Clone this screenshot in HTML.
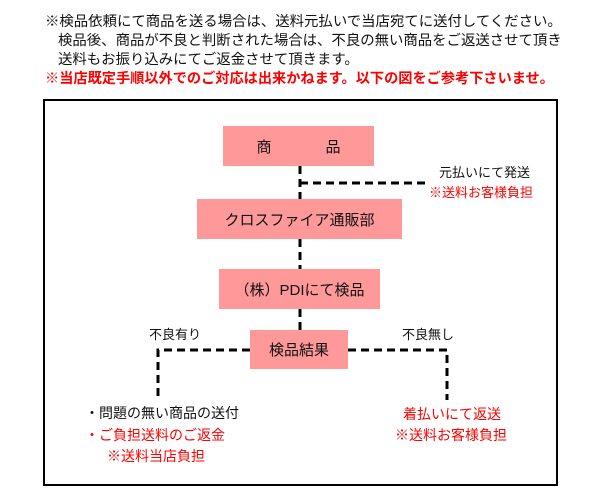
<!DOCTYPE html>
<html><head><meta charset="utf-8"><style>
body{margin:0;width:600px;height:500px;background:#fff;position:relative;font-family:"Liberation Sans","Noto Sans CJK JP",sans-serif;overflow:hidden}
.t{position:absolute;white-space:nowrap;font-size:14.4px;line-height:16px;color:#111}
.b{position:absolute;background:#ff9999;display:flex;align-items:center;justify-content:center;font-size:15px;color:#111}
.s{position:absolute;white-space:nowrap;font-size:13px;line-height:16px;color:#111}
.r{color:#f00}
</style></head><body>
<div class="t" style="left:45px;top:14px">※検品依頼にて商品を送る場合は、送料元払いで当店宛てに送付してください。</div>
<div class="t" style="left:58px;top:33px">検品後、商品が不良と判断された場合は、不良の無い商品をご返送させて頂き</div>
<div class="t" style="left:58px;top:52px">送料もお振り込みにてご返金させて頂きます。</div>
<div class="t r" style="left:45px;top:71px;font-weight:bold;font-size:14.2px">※当店既定手順以外でのご対応は出来かねます。以下の図をご参考下さいませ。</div>
<div style="position:absolute;left:43px;top:99px;width:511px;height:383px;border:2px solid #000"></div>
<svg style="position:absolute;left:0;top:0" width="600" height="500">
<g stroke="#000" stroke-width="3" fill="none" stroke-dasharray="8,5">
<line x1="300" y1="166" x2="300" y2="199"/>
<line x1="300" y1="183" x2="428" y2="183"/>
<line x1="300" y1="239" x2="300" y2="269"/>
<line x1="300" y1="309" x2="300" y2="330"/>
<polyline points="250,350 158,350 158,400"/>
<polyline points="348,350 447,350 447,400"/>
</g></svg>
<div class="b" style="left:223px;top:126px;width:151px;height:40px"><span>商</span><span style="display:inline-block;width:54px"></span><span>品</span></div>
<div class="b" style="left:197px;top:199px;width:205px;height:40px">クロスファイア通販部</div>
<div class="b" style="left:219px;top:269px;width:161px;height:40px">（株）PDIにて検品</div>
<div class="b" style="left:250px;top:330px;width:98px;height:39px">検品結果</div>
<div class="s" style="left:439px;top:165px">元払いにて発送</div>
<div class="s r" style="left:429px;top:185px">※送料お客様負担</div>
<div class="s" style="left:149px;top:327px">不良有り</div>
<div class="s" style="left:402px;top:327px">不良無し</div>
<div class="s" style="left:85px;top:405px;font-size:14px">・問題の無い商品の送付</div>
<div class="s r" style="left:85px;top:427px;font-size:14px">・ご負担送料のご返金</div>
<div class="s r" style="left:107px;top:448px;font-size:14px">※送料当店負担</div>
<div class="s r" style="left:403px;top:406px;font-size:14px">着払いにて返送</div>
<div class="s r" style="left:395px;top:427px;font-size:14px">※送料お客様負担</div>
</body></html>
